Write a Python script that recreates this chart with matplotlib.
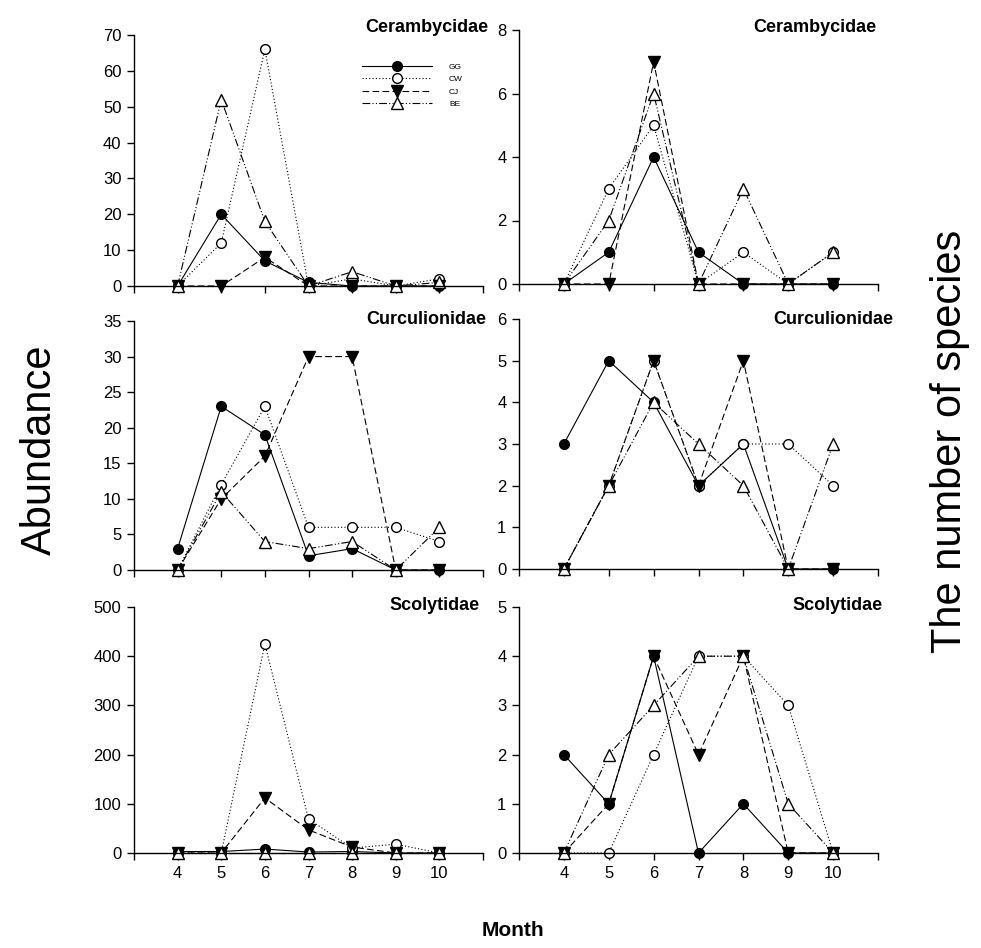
import matplotlib
matplotlib.use("Agg")
import matplotlib.pyplot as plt
from matplotlib.lines import Line2D

plt.rcParams['font.family'] = ['Liberation Sans', 'DejaVu Sans']

months = [4, 5, 6, 7, 8, 9, 10]
sites = ['GG', 'CW', 'CJ', 'BE']

# Abundance
ceram_abund = {
    'GG': [0, 20, 7, 1, 0, 0, 0],
    'CW': [0, 12, 66, 0, 2, 0, 2],
    'CJ': [0, 0, 8, 0, 0, 0, 0],
    'BE': [0, 52, 18, 0, 4, 0, 1],
}
curc_abund = {
    'GG': [3, 23, 19, 2, 3, 0, 0],
    'CW': [0, 12, 23, 6, 6, 6, 4],
    'CJ': [0, 10, 16, 30, 30, 0, 0],
    'BE': [0, 11, 4, 3, 4, 0, 6],
}
scol_abund = {
    'GG': [3, 3, 8, 2, 3, 0, 0],
    'CW': [0, 0, 425, 69, 10, 18, 0],
    'CJ': [0, 0, 112, 47, 12, 0, 0],
    'BE': [0, 0, 0, 0, 0, 0, 0],
}
# Number of species
ceram_spp = {
    'GG': [0, 1, 4, 1, 0, 0, 0],
    'CW': [0, 3, 5, 0, 1, 0, 1],
    'CJ': [0, 0, 7, 0, 0, 0, 0],
    'BE': [0, 2, 6, 0, 3, 0, 1],
}
curc_spp = {
    'GG': [3, 5, 4, 2, 3, 0, 0],
    'CW': [0, 2, 5, 2, 3, 3, 2],
    'CJ': [0, 2, 5, 2, 5, 0, 0],
    'BE': [0, 2, 4, 3, 2, 0, 3],
}
scol_spp = {
    'GG': [2, 1, 4, 0, 1, 0, 0],
    'CW': [0, 0, 2, 4, 4, 3, 0],
    'CJ': [0, 1, 4, 2, 4, 0, 0],
    'BE': [0, 2, 3, 4, 4, 1, 0],
}

titles = ['Cerambycidae', 'Curculionidae', 'Scolytidae']
left_data = [ceram_abund, curc_abund, scol_abund]
right_data = [ceram_spp, curc_spp, scol_spp]
left_yticks = [list(range(0, 71, 10)), list(range(0, 36, 5)), list(range(0, 501, 100))]
right_yticks = [list(range(0, 9, 2)), list(range(0, 7, 1)), list(range(0, 6, 1))]

styles = {
    'GG': dict(linestyle='-', marker='o', mfc='black', mec='black', ms=7),
    'CW': dict(linestyle=(0, (1, 2)), marker='o', mfc='white', mec='black', ms=7),
    'CJ': dict(linestyle=(0, (6, 3)), marker='v', mfc='black', mec='black', ms=8),
    'BE': dict(linestyle=(0, (7, 2, 1, 2, 1, 2)), marker='^', mfc='white', mec='black', ms=8),
}

W, H = 981, 948
fig = plt.figure(figsize=(W / 100, H / 100), dpi=100)

def px_axes(x0, x1, ytop, ybot):
    return fig.add_axes([x0 / W, 1 - ybot / H, (x1 - x0) / W, (ybot - ytop) / H])

left_rows = [(35, 286), (321, 570), (607, 853)]
right_rows = [(30, 284), (319, 569), (607, 853)]
left_x = (134, 483)
right_x = (519, 878)
left_title_pos = [(488, 27), (486, 319), (480, 605)]
right_title_pos = [(876, 27), (893, 320), (883, 606)]

def style_axes(ax, yticks, show_xlabels):
    ax.set_xlim(3, 11)
    ax.set_ylim(0, yticks[-1])
    ax.set_yticks(yticks)
    ax.set_yticklabels([str(t) for t in yticks])
    ax.set_xticks(list(range(3, 12)))
    if show_xlabels:
        ax.set_xticklabels([''] + [str(m) for m in months] + [''])
    else:
        ax.set_xticklabels([''] * 9)
    for s in ['top', 'right']:
        ax.spines[s].set_visible(False)
    for s in ['left', 'bottom']:
        ax.spines[s].set_linewidth(1.0)
    ax.tick_params(direction='out', length=5, width=1, labelsize=12, pad=4)

def draw(ax, data):
    for s in sites:
        ax.plot(months, data[s], color='black', lw=0.8, clip_on=False, **styles[s])

for i in range(3):
    axl = px_axes(left_x[0], left_x[1], *left_rows[i])
    draw(axl, left_data[i])
    style_axes(axl, left_yticks[i], i == 2)
    fig.text(left_title_pos[i][0] / W, 1 - left_title_pos[i][1] / H, titles[i],
             ha='right', va='center', fontsize=13, fontweight='bold')

    axr = px_axes(right_x[0], right_x[1], *right_rows[i])
    draw(axr, right_data[i])
    style_axes(axr, right_yticks[i], i == 2)
    fig.text(right_title_pos[i][0] / W, 1 - right_title_pos[i][1] / H, titles[i],
             ha='right', va='center', fontsize=13, fontweight='bold')

    if i == 0:
        handles = [Line2D([], [], color='black', lw=0.8, **styles[s]) for s in sites]
        axl.legend(handles, sites, loc='upper left', bbox_to_anchor=(0.645, 0.902),
                   frameon=False, fontsize=6, handlelength=8.4, handletextpad=2,
                   labelspacing=0.56, borderaxespad=0)

fig.text(40 / W, 1 - 450 / H, 'Abundance', rotation=90, ha='center', va='center', fontsize=30)
fig.text(950 / W, 1 - 441 / H, 'The number of species', rotation=90, ha='center', va='center', fontsize=30)
fig.text(513 / W, 1 - 930 / H, 'Month', ha='center', va='center', fontsize=15, fontweight='bold')

fig.savefig('out.png', dpi=100)
